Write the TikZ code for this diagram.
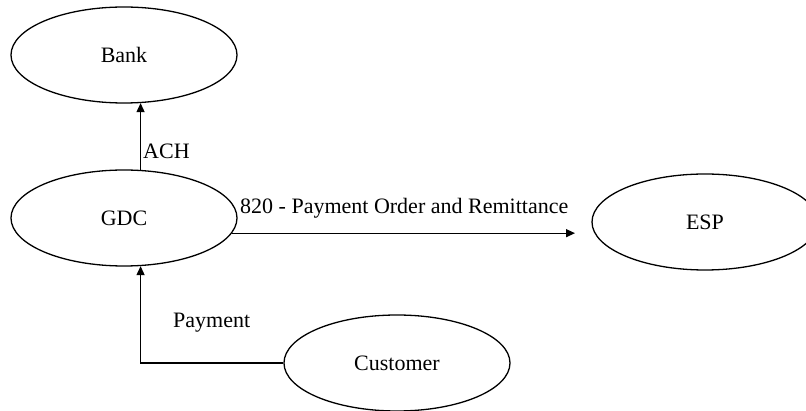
\documentclass[tikz,border=0pt]{standalone}
\usepackage{fontspec}
\setmainfont{Liberation Serif}
\usetikzlibrary{shapes.geometric,arrows.meta}
\begin{document}
\begin{tikzpicture}[x=1pt,y=-1pt,
  every node/.style={font=\fontsize{22}{26}\selectfont},
  entity/.style={ellipse,draw,line width=1.3pt,minimum width=226pt,minimum height=96pt,inner sep=0pt},
  flow/.style={line width=1.3pt,-{Triangle[length=9pt,width=8pt]}},
  flowlabel/.style={inner sep=0pt}]
  \useasboundingbox (0,0) rectangle (806,411);
  \clip (0,0) rectangle (806,411);

  % processes
  \node[entity] (Bank) at (124,55) {Bank};
  \node[entity] (GDC) at (124,218) {GDC};
  \node[entity] (ESP) at (705,222) {ESP};
  \node[entity] (Customer) at (397,363) {Customer};

  % free end of the remittance flow
  \coordinate (espIn) at (575,234);

  % flows
  \draw[flow] (GDC.71.6) -- (Bank.-71.6);
  \draw[flow] (GDC.-8) -- (GDC.-8 -| espIn);
  \draw[flow] (Customer.west) -| (GDC.-71.6);

  % flow labels
  \node[flowlabel,anchor=west] (lACH) at (143,151) {ACH};
  \node[flowlabel,anchor=west] (l820) at (240,208) {820 - Payment Order and Remittance};
  \node[flowlabel,anchor=west] (lPay) at (173,323) {Payment};
\end{tikzpicture}
\end{document}
